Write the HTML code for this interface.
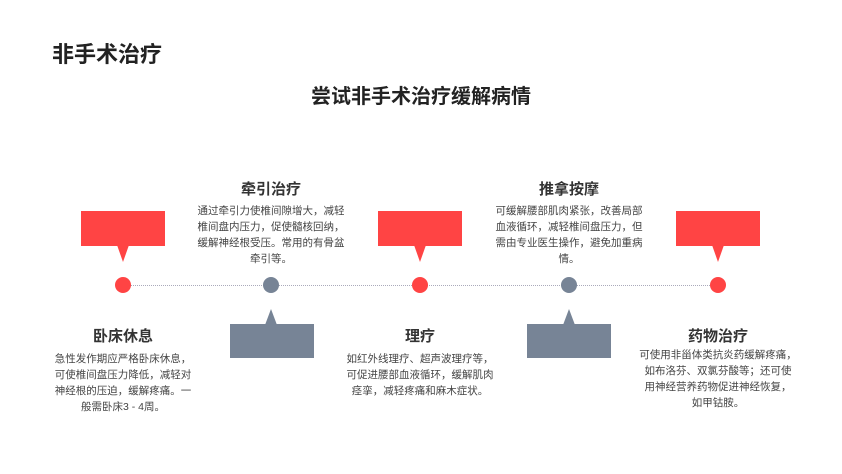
<!DOCTYPE html>
<html><head><meta charset="utf-8"><style>
body{margin:0;width:842px;height:474px;background:#fff;position:relative;overflow:hidden;font-family:"Liberation Sans","Noto Sans CJK SC",sans-serif;color:#333}
.a{position:absolute}
.t{position:absolute;width:200px;text-align:center;font-weight:bold;font-size:15px;color:#333;line-height:20px}
.b{position:absolute;width:200px;text-align:center;font-size:10.5px;line-height:16px;color:#444}
.dot{position:absolute;width:16px;height:16px;border-radius:50%;top:277px}
.r{background:#ff4444}.g{background:#778496}
</style></head><body>
<div class="a" style="left:52px;top:37px;font-size:22px;font-weight:bold;color:#222">非手术治疗</div>
<div class="a" style="left:0;width:842px;top:80px;text-align:center;font-size:20px;font-weight:bold;color:#222">尝试非手术治疗缓解病情</div>
<div class="a" style="left:123px;top:285px;width:595px;border-top:1px dotted #aab"></div>
<svg class="a" style="left:0;top:0" width="842" height="474">
<g fill="#ff4444">
<rect x="81" y="211" width="84" height="35"/><polygon points="117,245 129,245 123,262"/>
<rect x="378" y="211" width="84" height="35"/><polygon points="414,245 426,245 420,262"/>
<rect x="676" y="211" width="84" height="35"/><polygon points="712,245 724,245 718,262"/>
</g>
<g fill="#778496">
<rect x="230" y="324" width="84" height="34"/><polygon points="265,325 277,325 271,309"/>
<rect x="527" y="324" width="84" height="34"/><polygon points="563,325 575,325 569,309"/>
</g>
</svg>
<div class="dot r" style="left:115px"></div>
<div class="dot g" style="left:263px"></div>
<div class="dot r" style="left:412px"></div>
<div class="dot g" style="left:561px"></div>
<div class="dot r" style="left:710px"></div>

<div class="t" style="left:171px;top:180px">牵引治疗</div>
<div class="b" style="left:171px;top:203px;width:200px">通过牵引力使椎间隙增大，减轻<br>椎间盘内压力，促使髓核回纳，<br>缓解神经根受压。常用的有骨盆<br>牵引等。</div>
<div class="t" style="left:469px;top:180px">推拿按摩</div>
<div class="b" style="left:469px;top:203px">可缓解腰部肌肉紧张，改善局部<br>血液循环，减轻椎间盘压力，但<br>需由专业医生操作，避免加重病<br>情。</div>

<div class="t" style="left:23px;top:327px">卧床休息</div>
<div class="b" style="left:23px;top:351px">急性发作期应严格卧床休息，<br>可使椎间盘压力降低，减轻对<br>神经根的压迫，缓解疼痛。一<br>般需卧床3 - 4周。</div>
<div class="t" style="left:320px;top:327px">理疗</div>
<div class="b" style="left:320px;top:351px">如红外线理疗、超声波理疗等，<br>可促进腰部血液循环，缓解肌肉<br>痉挛，减轻疼痛和麻木症状。</div>
<div class="t" style="left:618px;top:327px">药物治疗</div>
<div class="b" style="left:603px;top:347px;width:230px">可使用非甾体类抗炎药缓解疼痛，<br>如布洛芬、双氯芬酸等；还可使<br>用神经营养药物促进神经恢复，<br>如甲钴胺。</div>
</body></html>
